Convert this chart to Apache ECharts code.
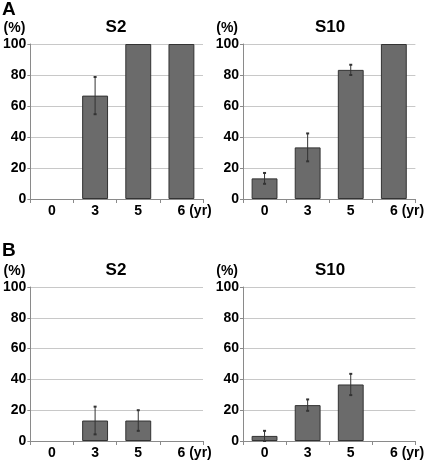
<!DOCTYPE html>
<html><head><meta charset="utf-8">
<script src="https://cdn.jsdelivr.net/npm/echarts@6/dist/echarts.min.js"></script>
<style>html,body{margin:0;padding:0;background:#fff}#c{width:425px;height:460px}</style>
</head><body><div id="c"></div>
<script>
const categories = ['0', '3', '5', '6'];
const yTicks = [0, 20, 40, 60, 80, 100];
const aS2 = [0, 66.7, 100, 100];
const aS2Err = [null, 12, null, null];
const aS10 = [13.3, 33.3, 83.3, 100];
const aS10Err = [3.5, 9, 3.3, null];
const bS2 = [0, 13.3, 13.3, 0];
const bS2Err = [null, 9, 6.7, null];
const bS10 = [3.3, 23.3, 36.7, 0];
const bS10Err = [3.3, 3.7, 6.9, null];
const panels = [
  {title: 'S2', vals: aS2, err: aS2Err},
  {title: 'S10', vals: aS10, err: aS10Err},
  {title: 'S2', vals: bS2, err: bS2Err},
  {title: 'S10', vals: bS10, err: bS10Err}
];
const gridPos = [
  {left: 29, top: 44}, {left: 243, top: 44},
  {left: 29, top: 287}, {left: 243, top: 287}
];
const FONT = 'Liberation Sans, Arial, sans-serif';
const chart = echarts.init(document.getElementById('c'), null, {renderer: 'canvas'});
const grids = [], xAxes = [], yAxes = [], series = [], titles = [];
panels.forEach((p, i) => {
  grids.push({left: gridPos[i].left, top: gridPos[i].top, width: 174, height: 155, containLabel: false});
  xAxes.push({
    type: 'category', gridIndex: i, data: categories, boundaryGap: true,
    axisLine: {lineStyle: {color: '#8a8a8a', width: 1}},
    axisTick: {show: true, length: 4, lineStyle: {color: '#8a8a8a'}},
    axisLabel: {color: '#000', fontWeight: 'bold', fontSize: 14, fontFamily: FONT, margin: 5},
    name: '(yr)', nameLocation: 'end', nameGap: -17,
    nameTextStyle: {color: '#000', fontWeight: 'bold', fontSize: 14, fontFamily: FONT, align: 'left', verticalAlign: 'top', padding: [5, 0, 0, 0]}
  });
  yAxes.push({
    type: 'value', gridIndex: i, min: 0, max: 100, interval: 20,
    axisLine: {show: true, lineStyle: {color: '#8a8a8a', width: 1}},
    axisTick: {show: true, length: 3, lineStyle: {color: '#8a8a8a'}},
    axisLabel: {color: '#000', fontWeight: 'bold', fontSize: 14, fontFamily: FONT, margin: 4},
    splitLine: {show: true, lineStyle: {color: '#c8c8c8', width: 1}},
    name: '(%)', nameLocation: 'end', nameGap: 9,
    nameTextStyle: {color: '#000', fontWeight: 'bold', fontSize: 14, fontFamily: FONT, align: 'right', padding: [0, 5, 0, 0]}
  });
  series.push({
    type: 'bar', xAxisIndex: i, yAxisIndex: i, barWidth: '60%',
    data: p.vals.map(v => v === 0 ? '-' : v),
    itemStyle: {color: '#6b6b6b', borderColor: '#333', borderWidth: 1},
    silent: true, animation: false
  });
  const ed = [];
  p.err.forEach((e, k) => { if (e != null) ed.push([k, Math.max(0, p.vals[k] - e), p.vals[k] + e]); });
  series.push({
    type: 'custom', xAxisIndex: i, yAxisIndex: i, data: ed, z: 5, animation: false, silent: true,
    encode: {x: 0, y: [1, 2]},
    renderItem: function (params, api) {
      const x = api.value(0);
      const lo = api.coord([x, api.value(1)]);
      const hi = api.coord([x, api.value(2)]);
      const c = 1.5;
      const st = {stroke: '#333', lineWidth: 1};
      return {type: 'group', children: [
        {type: 'line', shape: {x1: lo[0], y1: lo[1], x2: hi[0], y2: hi[1]}, style: st},
        {type: 'line', shape: {x1: hi[0] - c, y1: hi[1], x2: hi[0] + c, y2: hi[1]}, style: {stroke: '#333', lineWidth: 2}},
        {type: 'line', shape: {x1: lo[0] - c, y1: lo[1], x2: lo[0] + c, y2: lo[1]}, style: {stroke: '#333', lineWidth: 2}}
      ]};
    }
  });
  titles.push({text: p.title, left: gridPos[i].left + 87, top: gridPos[i].top - 25, textAlign: 'center',
    textStyle: {fontSize: 17, fontWeight: 'bold', color: '#000', fontFamily: FONT}, padding: 0});
});
titles.push({text: 'A', left: 2, top: 0, padding: 0, textStyle: {fontSize: 19, fontWeight: 'bold', color: '#000', fontFamily: FONT}});
titles.push({text: 'B', left: 2, top: 241, padding: 0, textStyle: {fontSize: 19, fontWeight: 'bold', color: '#000', fontFamily: FONT}});
chart.setOption({
  animation: false,
  title: titles,
  grid: grids, xAxis: xAxes, yAxis: yAxes, series: series
});
</script>
</body></html>
